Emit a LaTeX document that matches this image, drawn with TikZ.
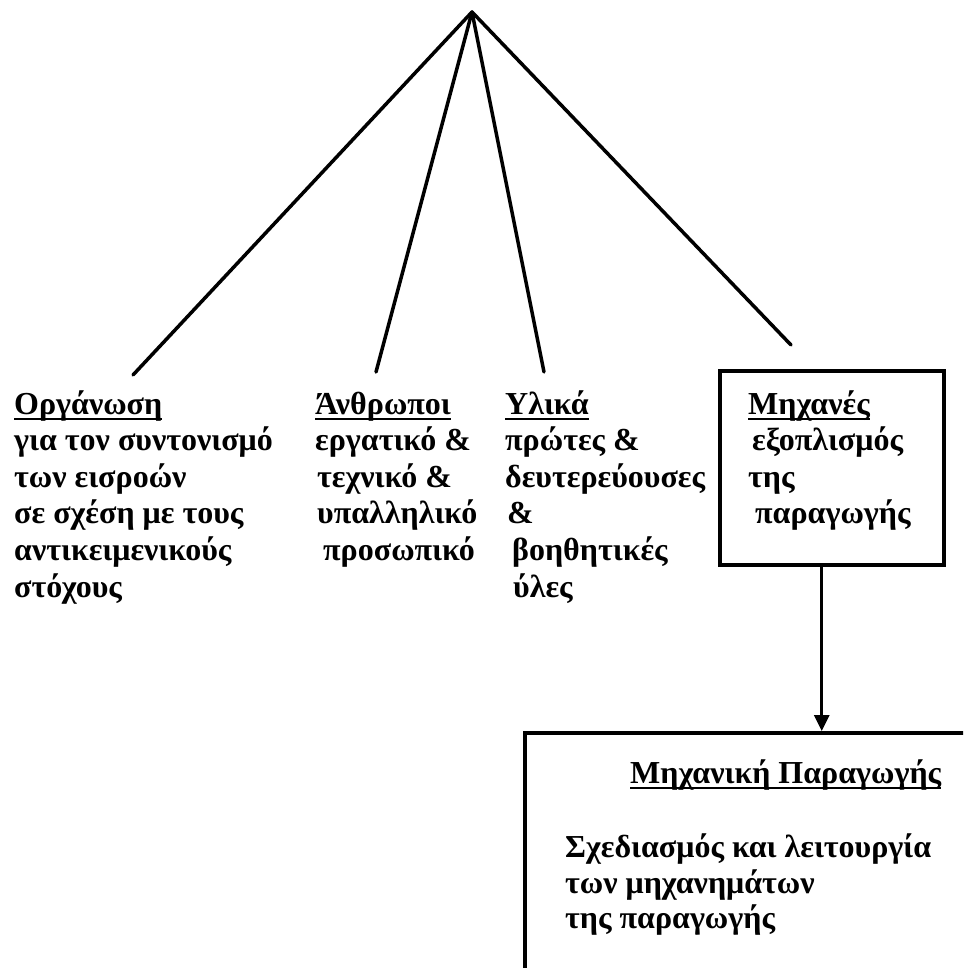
\documentclass[tikz,border=0pt]{standalone}
\usepackage{fontspec}
\setmainfont{Liberation Serif}
\usetikzlibrary{arrows.meta,calc}
\newcommand\myul[1]{\setbox0\hbox{#1}\rlap{\rule[-6pt]{\wd0}{1.8pt}}\box0}
\tikzset{
  txt/.style={anchor=base west, inner sep=0pt, font=\fontsize{32}{37}\selectfont\bfseries},
  ray/.style={line width=3.5pt, line cap=round},
  boxline/.style={draw, line width=4pt, inner sep=0pt, anchor=north west},
  arr/.style={line width=3pt, -{Triangle[width=15pt,length=16pt]}}
}
\begin{document}
\begin{tikzpicture}[x=1pt,y=-1pt]
\useasboundingbox (0,0) rectangle (963,968);
\clip (0,0) rectangle (963,968);
% rays
\coordinate (apex) at (472,12);
\coordinate (e1) at (133,375);
\coordinate (e2) at (376,372);
\coordinate (e3) at (544,372);
\coordinate (e4) at (791,345);
\foreach \e in {e1,e2,e3,e4} \draw[ray] (apex) -- (\e);
% boxes
\node[boxline, minimum width=224pt, minimum height=194pt] (mach) at (718,369) {};
\node[boxline, minimum width=470pt, minimum height=280pt] (prod) at (523,731) {};
\coordinate (a1) at ($(mach.south west)!0.455!(mach.south east)$);
\draw[arr] (a1) -- (a1 |- prod.north);
% column 1
\node[txt] (o1) at (14,414) {\myul{Οργάνωση}};
\node[txt] (o2) at (14,450.6) {για τον συντονισμό};
\node[txt] (o3) at (14,487.2) {των εισροών};
\node[txt] (o4) at (14,523.8) {σε σχέση με τους};
\node[txt] (o5) at (14,560.4) {αντικειμενικούς};
\node[txt] (o6) at (14,597) {στόχους};
% column 2
\node[txt] (p1) at (315,414) {\myul{Άνθρωποι}};
\node[txt] (p2) at (315,450.6) {εργατικό \&};
\node[txt] (p3) at (317,487.2) {τεχνικό \&};
\node[txt] (p4) at (317,523.8) {υπαλληλικό};
\node[txt] (p5) at (323,560.4) {προσωπικό};
% column 3
\node[txt] (m1) at (505,414) {\myul{Υλικά}};
\node[txt] (m2) at (505,450.6) {πρώτες \&};
\node[txt] (m3) at (505,487.2) {δευτερεύουσες};
\node[txt] (m4) at (507,523.8) {\&};
\node[txt] (m5) at (512,560.4) {βοηθητικές};
\node[txt] (m6) at (513,597) {ύλες};
% column 4 (inside box)
\node[txt] (k1) at (748,414) {\myul{Μηχανές}};
\node[txt] (k2) at (752,450.6) {εξοπλισμός};
\node[txt] (k3) at (748,487.2) {της};
\node[txt] (k4) at (755,523.8) {παραγωγής};
% bottom box text
\node[txt] (b1) at (630,783) {\myul{Μηχανική Παραγωγής}};
\node[txt] (b2) at (565,857) {Σχεδιασμός και λειτουργία};
\node[txt] (b3) at (565,893) {των μηχανημάτων};
\node[txt] (b4) at (565,928) {της παραγωγής};
\end{tikzpicture}
\end{document}
